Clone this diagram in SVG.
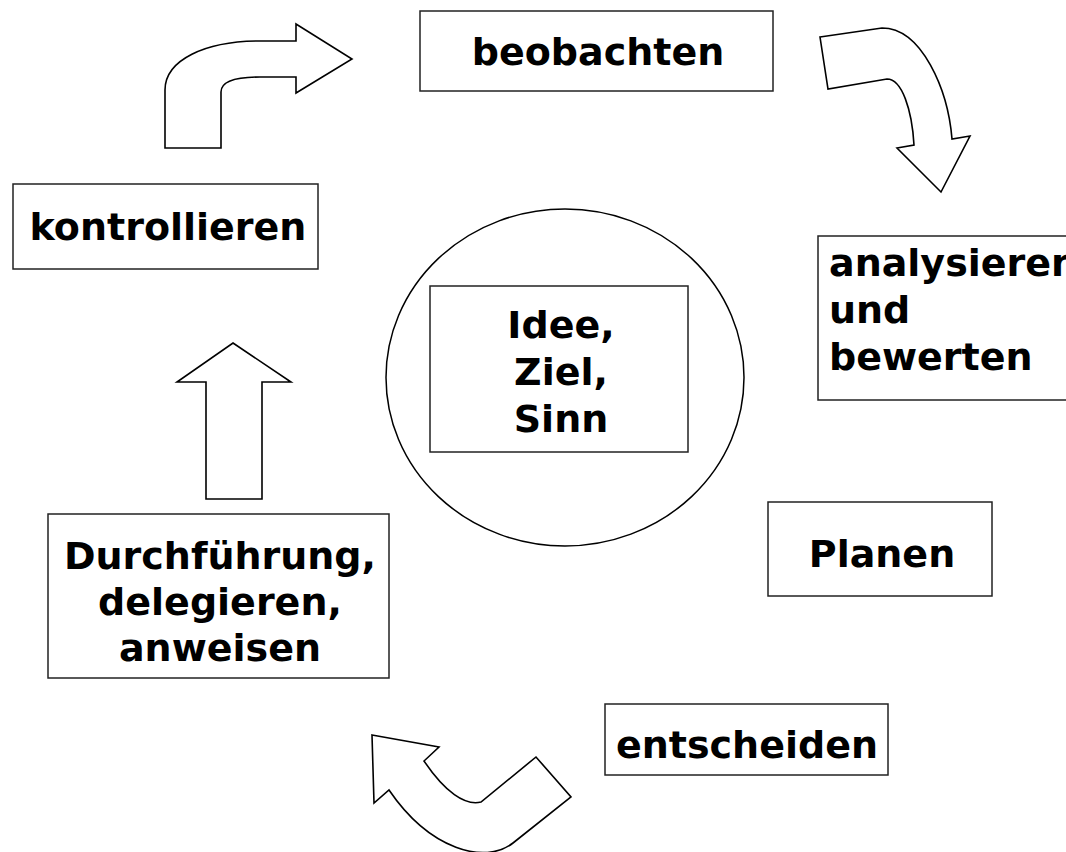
<svg xmlns="http://www.w3.org/2000/svg" width="1066" height="852" viewBox="0 0 1066 852">
<style>
.box{fill:#fff;stroke:#222;stroke-width:1.5}
.arr{fill:#fff;stroke:#000;stroke-width:1.6;stroke-linejoin:miter}
.t{font-family:"DejaVu Sans",Verdana,sans-serif;font-weight:bold;font-size:38px;fill:#000}
.c{text-anchor:middle}
</style>
<rect width="1066" height="852" fill="#fff"/>
<g id="connectors">
<path class="arr" d="M165,148 L221,148 L221,92 C221,82 235,77 260,77 L296,77 L296,93 L352,59 L296,24 L296,41 L260,41 C205,41 165,60 165,90 Z"/>
<path class="arr" d="M820,37 L882,28 C922,28 948,90 952,139 L970,136 L941,192 L897,148 L914,145 C912,110 902,79 887,79 L828,89 Z"/>
<path class="arr" d="M372,735 L439,747 L424,761 C445,792 465,806 481,802 L536,757 L571,797 L513,843 C485,865 430,850 389,790 L374,803 Z"/>
<path class="arr" d="M233,343 L291,382 L262,382 L262,499 L206,499 L206,382 L177,382 Z"/>
</g>
<g id="node-beobachten">
<rect class="box" x="420" y="11" width="353" height="80"/>
<text class="t c" x="598" y="65">beobachten</text>
</g>
<g id="node-kontrollieren">
<rect class="box" x="13" y="184" width="305" height="85"/>
<text class="t c" x="168" y="240">kontrollieren</text>
</g>
<g id="node-analysieren">
<rect class="box" x="818" y="236" width="260" height="164"/>
<text class="t" x="829" y="276">analysieren</text>
<text class="t" x="829" y="323">und</text>
<text class="t" x="829" y="370">bewerten</text>
</g>
<g id="node-center">
<ellipse cx="565" cy="377.5" rx="179" ry="168.5" fill="#fff" stroke="#000" stroke-width="1.5"/>
<rect class="box" x="430" y="286" width="258" height="166"/>
<text class="t c" x="561" y="338">Idee,</text>
<text class="t c" x="561" y="385">Ziel,</text>
<text class="t c" x="561" y="432">Sinn</text>
</g>
<g id="node-planen">
<rect class="box" x="768" y="502" width="224" height="94"/>
<text class="t c" x="882" y="567">Planen</text>
</g>
<g id="node-durchfuehrung">
<rect class="box" x="48" y="514" width="341" height="164"/>
<text class="t c" x="220" y="569">Durchführung,</text>
<text class="t c" x="220" y="615">delegieren,</text>
<text class="t c" x="220" y="661">anweisen</text>
</g>
<g id="node-entscheiden">
<rect class="box" x="605" y="704" width="283" height="71"/>
<text class="t c" x="747" y="758">entscheiden</text>
</g>
</svg>
